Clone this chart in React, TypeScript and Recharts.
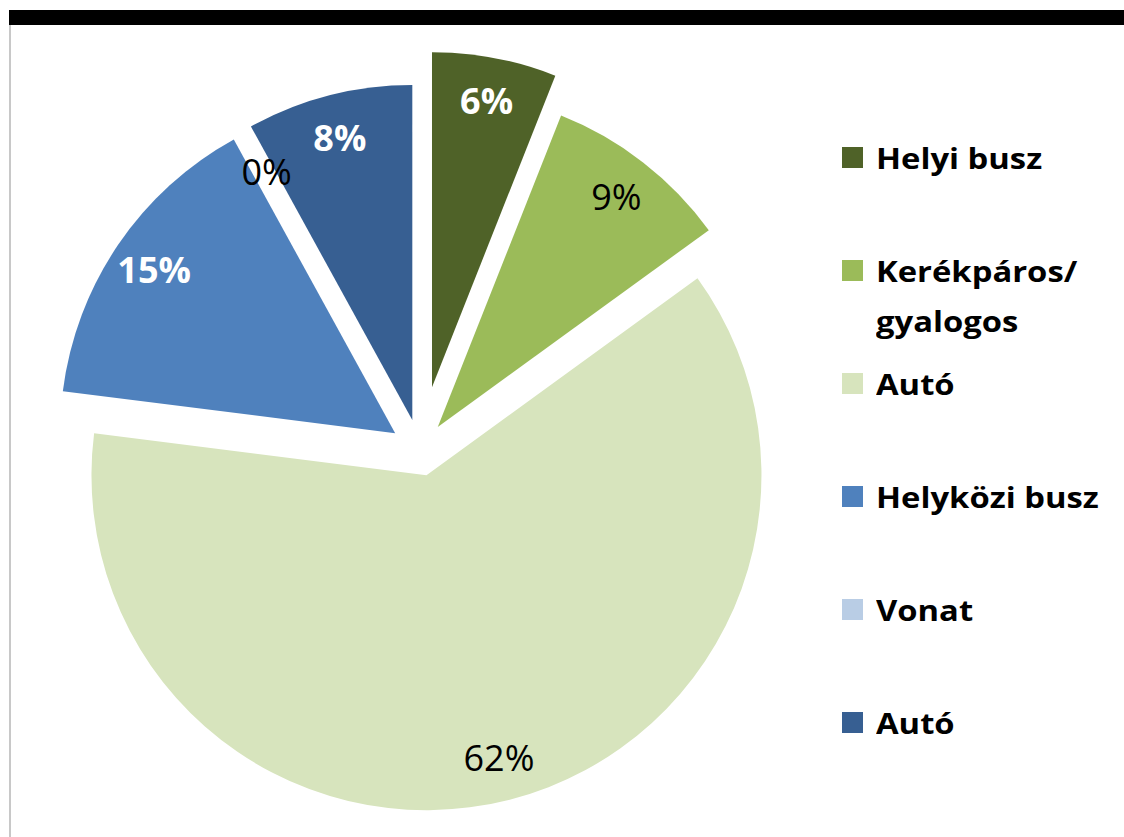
import { PieChart, Pie, Cell } from "recharts";

const NAMES = ["Helyi busz", "Kerékpáros/ gyalogos", "Autó", "Helyközi busz", "Vonat", "Autó"];
const VALUES = [6, 9, 62, 15, 0, 8];
const COLORS = ["#4F6228", "#9BBB59", "#D7E4BD", "#4F81BD", "#B9CDE5", "#375F92"];
// how far each slice is pulled out of the pie, px
const EXPLODE = [64, 29, 26, 30, 0, 31];
// white bold label on the dark slices
const LIGHT_LABEL = [true, false, false, true, false, true];

const CX = 420;
const CY = 450;
const R = 335;
const RAD = Math.PI / 180;
const FONT = "'Open Sans', sans-serif";

const data = NAMES.map((name, i) => ({ name, value: VALUES[i] }));
const total = VALUES.reduce((a, b) => a + b, 0);

function sliceCenter(i: number) {
  const before = VALUES.slice(0, i).reduce((a, b) => a + b, 0);
  const mid = ((before + VALUES[i] / 2) / total) * 2 * Math.PI; // clockwise from 12 o'clock
  return { x: CX + EXPLODE[i] * Math.sin(mid), y: CY - EXPLODE[i] * Math.cos(mid) };
}

const renderLabel = (slice: number) => (props: any) => {
  if (props.index !== slice) return null;
  const { cx, cy, midAngle, outerRadius, percent } = props;
  const r = outerRadius * (VALUES[slice] === 0 ? 0.95 : 0.87);
  const x = cx + r * Math.cos(-midAngle * RAD);
  const y = cy + r * Math.sin(-midAngle * RAD);
  const light = LIGHT_LABEL[slice];
  return (
    <text
      x={x}
      y={y}
      textAnchor="middle"
      dominantBaseline="central"
      fill={light ? "#ffffff" : "#000000"}
      fontFamily={FONT}
      fontWeight={light ? 700 : 400}
      fontSize={36}
    >
      {`${Math.round(percent * 100)}%`}
    </text>
  );
};

function ChartLegend() {
  return (
    <div style={{ position: "absolute", left: 842, top: 133, width: 280, fontFamily: FONT }}>
      {NAMES.map((name, i) => (
        <div key={i} style={{ position: "relative", height: 113 }}>
          <div
            style={{
              position: "absolute",
              left: 0,
              top: 14,
              width: 21,
              height: 21,
              background: COLORS[i],
            }}
          />
          <div
            style={{
              position: "absolute",
              left: 34,
              top: 0,
              width: 220,
              fontSize: 29,
              fontWeight: 700,
              lineHeight: "50px",
              color: "#000",
              transform: "scaleX(1.13)",
              transformOrigin: "left center",
            }}
          >
            {name}
          </div>
        </div>
      ))}
    </div>
  );
}

export default function App() {
  return (
    <div
      style={{
        position: "absolute",
        left: 0,
        top: 0,
        width: 1124,
        height: 837,
        background: "#fff",
        overflow: "hidden",
      }}
    >
      <div style={{ position: "absolute", left: 9, top: 10, width: 1115, height: 15, background: "#000" }} />
      <div style={{ position: "absolute", left: 9, top: 25, width: 2, height: 812, background: "#c8c8c8" }} />
      <div style={{ position: "absolute", left: 0, top: 0 }}>
        <PieChart width={1124} height={837} margin={{ top: 0, right: 0, bottom: 0, left: 0 }}>
          {VALUES.map((_, i) => {
            const c = sliceCenter(i);
            return (
              <Pie
                key={i}
                data={data}
                dataKey="value"
                nameKey="name"
                cx={c.x}
                cy={c.y}
                outerRadius={R}
                startAngle={90}
                endAngle={-270}
                stroke="none"
                labelLine={false}
                label={renderLabel(i)}
                isAnimationActive={false}
              >
                {data.map((_, j) => (
                  <Cell key={j} fill={j === i ? COLORS[j] : "transparent"} />
                ))}
              </Pie>
            );
          })}
        </PieChart>
      </div>
      <ChartLegend />
    </div>
  );
}
